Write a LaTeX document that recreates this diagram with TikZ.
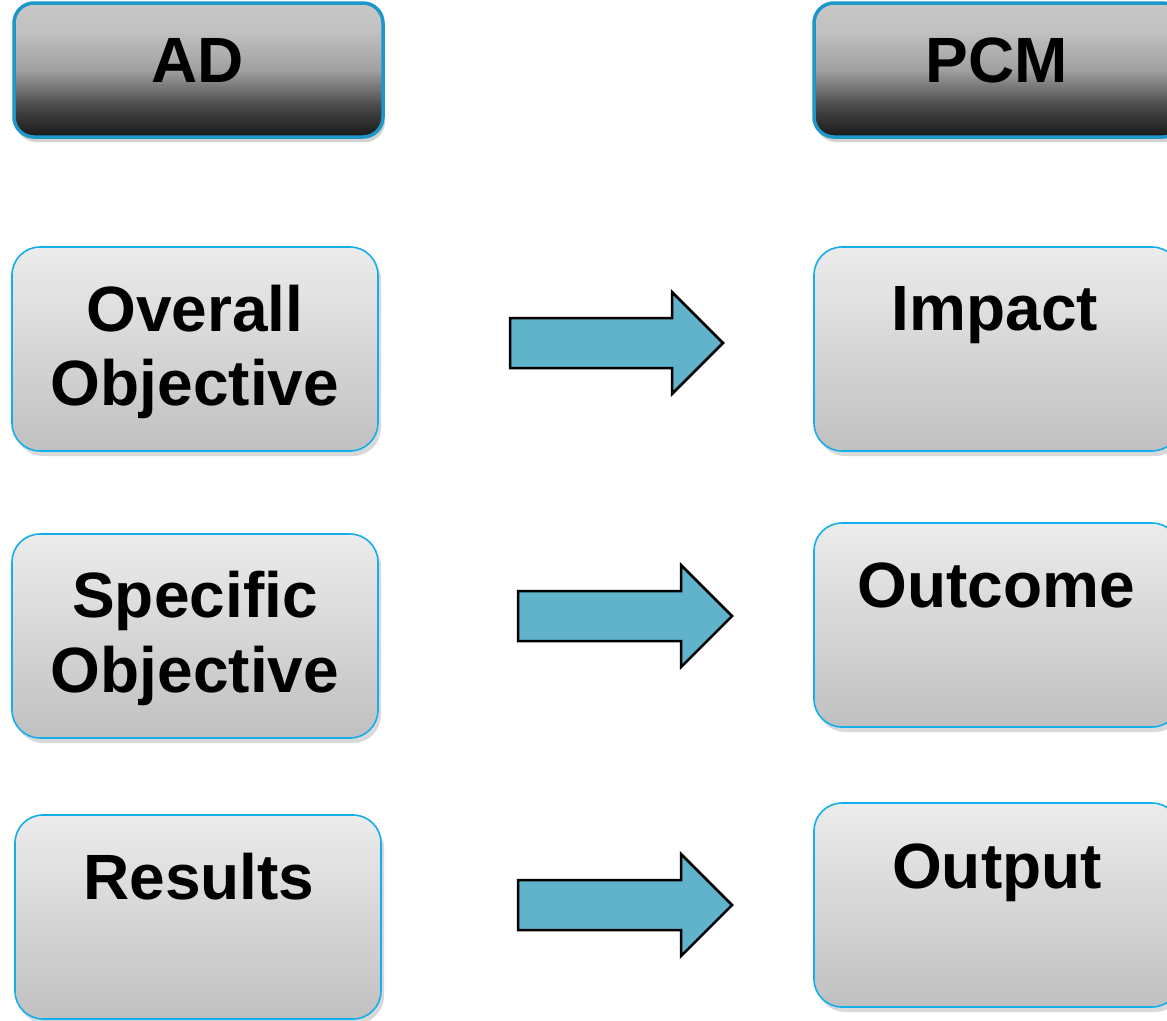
\documentclass[tikz,border=0pt]{standalone}
\usepackage{fontspec}
\setmainfont{Liberation Sans}
\usetikzlibrary{shadows}
\definecolor{hdrborder}{RGB}{30,150,200}
\definecolor{boxborder}{RGB}{20,175,235}
\definecolor{arrowfill}{RGB}{97,179,204}
\definecolor{hdrc1}{RGB}{24,24,24}
\definecolor{hdrc2}{RGB}{70,70,70}
\definecolor{hdrc3}{RGB}{160,160,160}
\definecolor{hdrc4}{RGB}{192,192,192}
\definecolor{hdrc5}{RGB}{200,200,200}
\definecolor{boxtop}{RGB}{236,236,236}
\definecolor{boxbot}{RGB}{192,192,192}
\pgfdeclareverticalshading{hdrshade}{100bp}{color(0bp)=(hdrc1); color(25bp)=(hdrc1); color(36bp)=(hdrc2); color(50bp)=(hdrc3); color(64bp)=(hdrc4); color(75bp)=(hdrc5); color(100bp)=(hdrc5)}
\tikzset{
  hdrbox/.style={draw=hdrborder, line width=3.5pt, rounded corners=20pt,
    shading=hdrshade,
    minimum width=369pt, minimum height=134pt, inner sep=0pt,
    drop shadow={shadow xshift=2pt, shadow yshift=-5pt, opacity=0.35}},
  rowbox/.style={draw=boxborder, line width=1.6pt, rounded corners=28pt,
    top color=boxtop, bottom color=boxbot,
    minimum width=366pt, minimum height=204pt, inner sep=0pt,
    drop shadow={shadow xshift=3pt, shadow yshift=-5pt, opacity=0.3}},
  lbl/.style={anchor=base, inner sep=0pt, font=\fontsize{64}{75}\selectfont\bfseries},
  blockarrow/.style={draw=black, line width=2.5pt, fill=arrowfill, line join=miter}
}
\begin{document}
\begin{tikzpicture}[x=1pt, y=-1pt]
\useasboundingbox (0,0) rectangle (1167,1020);
% headers
\node[hdrbox] (ad) at (198.5,70) {};
\node[hdrbox] (pcm) at (998.5,70) {};
\node[lbl] (adt) at (198,82) {AD};
\node[lbl] (pcmt) at (997,82) {PCM};
% row boxes
\node[rowbox] (oo) at (195,349) {};
\node[rowbox] (imp) at (997,349) {};
\node[rowbox] (so) at (195,636) {};
\node[rowbox] (outc) at (997,625) {};
\node[rowbox] (res) at (198,917) {};
\node[rowbox] (outp) at (997,905) {};
% texts
\node[lbl] (oo1) at (195,331) {Overall};
\node[lbl] (oo2) at (195,405) {Objective};
\node[lbl] (impt) at (995,330) {Impact};
\node[lbl] (so1) at (195,617) {Specific};
\node[lbl] (so2) at (195,692) {Objective};
\node[lbl] (outct) at (996,607) {Outcome};
\node[lbl] (rest) at (199,899) {Results};
\node[lbl] (outpt) at (997,888) {Output};
% block arrows
\draw[blockarrow] (510,318) -- (672,318) -- (672,292) -- (723,343) -- (672,394) -- (672,368) -- (510,368) -- cycle;
\draw[blockarrow] (518,591) -- (681,591) -- (681,565) -- (732,616) -- (681,667) -- (681,641) -- (518,641) -- cycle;
\draw[blockarrow] (518,880) -- (681,880) -- (681,854) -- (732,905) -- (681,956) -- (681,930) -- (518,930) -- cycle;
\end{tikzpicture}
\end{document}
